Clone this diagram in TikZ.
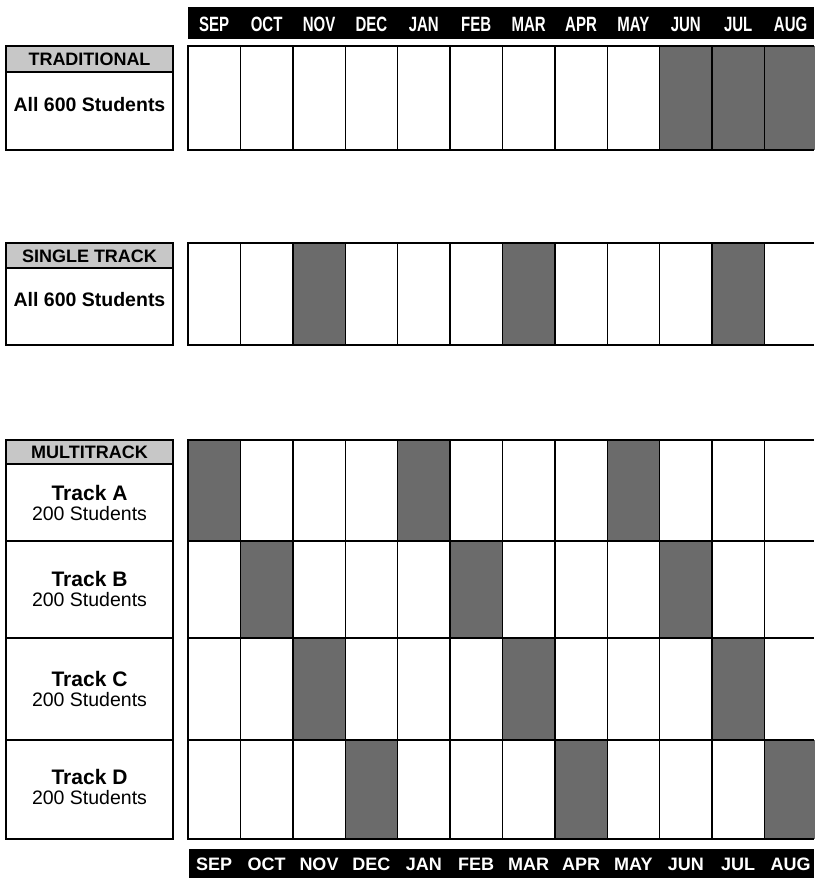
\documentclass[tikz,border=0pt]{standalone}
\usepackage{fontspec}
\usepackage{graphicx}
\setmainfont{Liberation Sans}
\begin{document}
\begin{tikzpicture}[x=1pt,y=-1pt,
  gridline/.style={line width=1.4pt},
  boxline/.style={draw, line width=1.6pt},
  shadecell/.style={fill=black!58},
  hdrfill/.style={fill=black!22},
  month/.style={text=white, font=\bfseries\fontsize{15}{15}\selectfont, anchor=center, inner sep=0pt},
  bigmonth/.style={text=white, font=\bfseries\fontsize{18}{18}\selectfont, anchor=center, inner sep=0pt},
  hdrtext/.style={font=\bfseries\fontsize{18}{18}\selectfont, anchor=center, inner sep=0pt},
  alltext/.style={font=\bfseries\fontsize{19.5}{19.5}\selectfont, anchor=center, inner sep=0pt},
  tracktext/.style={font=\fontsize{19.5}{19.5}\selectfont, align=center, anchor=center, inner sep=0pt}]
\useasboundingbox (0,0) rectangle (814,878);
\fill[white] (0,0) rectangle (814,878);
\def\cw{52.4}
\def\xo{188}
% ---------- top and bottom month bars
\fill[black] (188,7) rectangle (814,39);
\fill[black] (189,849) rectangle (814,878);
\foreach \m [count=\i from 0] in {SEP,OCT,NOV,DEC,JAN,FEB,MAR,APR,MAY,JUN,JUL,AUG}{
  \node[month] (top\m) at ({\xo+\cw*(\i+0.5)},24.5) {\scalebox{1}[1.38]{\m}};
  \node[bigmonth] (bot\m) at ({\xo+\cw*(\i+0.5)},864.5) {\m};
}
% ---------- TRADITIONAL
\foreach \c in {9,10,11}{
  \fill[shadecell] ({\xo+\cw*\c},46) rectangle ({\xo+\cw*(\c+1)},150);
}
\draw[gridline] (814,46) -- (\xo,46) -- (\xo,150) -- (814,150);
\foreach \c in {1,...,11}{
  \draw[gridline] ({\xo+\cw*\c},46) -- ({\xo+\cw*\c},150);
}
\draw[boxline, hdrfill] (6,46) rectangle (173,72);
\draw[boxline] (6,72) rectangle (173,150);
\node[hdrtext] (tradhead) at (89.5,59.5) {TRADITIONAL};
\node[alltext] (tradall) at (89.5,105) {All 600 Students};
% ---------- SINGLE TRACK
\foreach \c in {2,6,10}{
  \fill[shadecell] ({\xo+\cw*\c},243) rectangle ({\xo+\cw*(\c+1)},345);
}
\draw[gridline] (814,243) -- (\xo,243) -- (\xo,345) -- (814,345);
\foreach \c in {1,...,11}{
  \draw[gridline] ({\xo+\cw*\c},243) -- ({\xo+\cw*\c},345);
}
\draw[boxline, hdrfill] (6,243) rectangle (173,268);
\draw[boxline] (6,268) rectangle (173,345);
\node[hdrtext] (singlehead) at (89.5,256) {SINGLE TRACK};
\node[alltext] (singleall) at (89.5,300) {All 600 Students};
% ---------- MULTITRACK
\foreach \c in {0,4,8}{\fill[shadecell] ({\xo+\cw*\c},440) rectangle ({\xo+\cw*(\c+1)},541);}
\foreach \c in {1,5,9}{\fill[shadecell] ({\xo+\cw*\c},541) rectangle ({\xo+\cw*(\c+1)},638);}
\foreach \c in {2,6,10}{\fill[shadecell] ({\xo+\cw*\c},638) rectangle ({\xo+\cw*(\c+1)},740);}
\foreach \c in {3,7,11}{\fill[shadecell] ({\xo+\cw*\c},740) rectangle ({\xo+\cw*(\c+1)},839);}
\draw[gridline] (814,440) -- (\xo,440) -- (\xo,839) -- (814,839);
\foreach \r in {541,638,740}{\draw[gridline] (\xo,\r) -- (814,\r);}
\foreach \c in {1,...,11}{
  \draw[gridline] ({\xo+\cw*\c},440) -- ({\xo+\cw*\c},839);
}
\draw[boxline, hdrfill] (6,440) rectangle (173,464);
\draw[boxline] (6,464) rectangle (173,839);
\foreach \r in {541,638,740}{\draw[boxline] (6,\r) -- (173,\r);}
\node[hdrtext] (multihead) at (89.5,452.5) {MULTITRACK};
\node[tracktext] (trackA) at (89.5,503) {{\bfseries\fontsize{21}{19.5}\selectfont Track A}\\200 Students};
\node[tracktext] (trackB) at (89.5,589) {{\bfseries\fontsize{21}{19.5}\selectfont Track B}\\200 Students};
\node[tracktext] (trackC) at (89.5,689) {{\bfseries\fontsize{21}{19.5}\selectfont Track C}\\200 Students};
\node[tracktext] (trackD) at (89.5,787) {{\bfseries\fontsize{21}{19.5}\selectfont Track D}\\200 Students};
\end{tikzpicture}
\end{document}
